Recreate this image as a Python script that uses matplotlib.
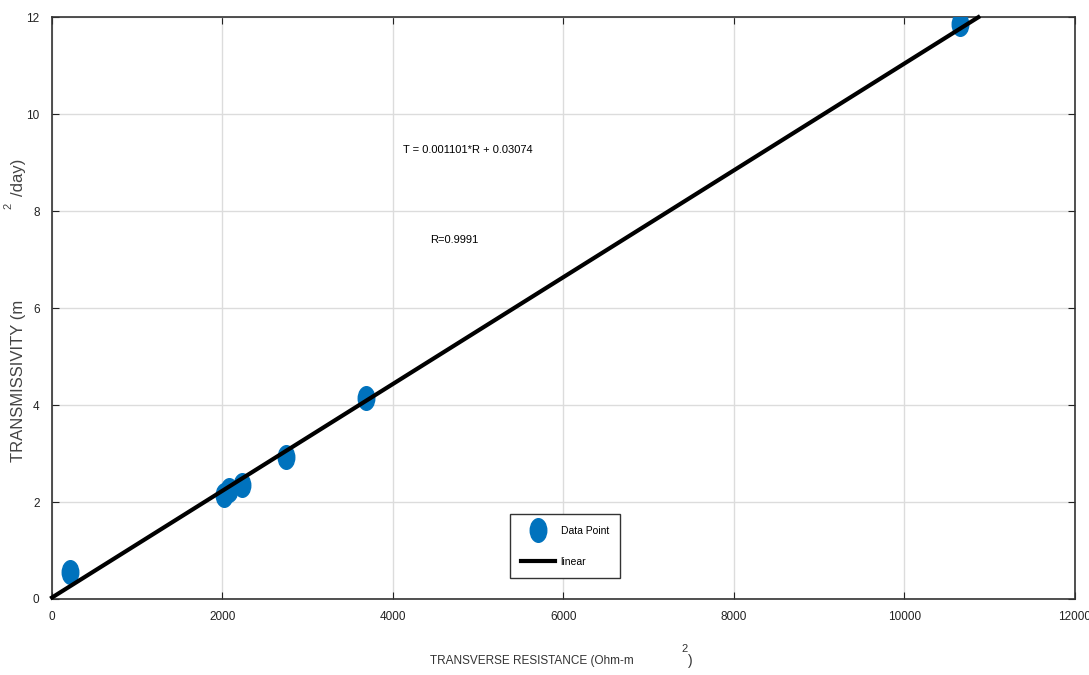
import numpy as np
import matplotlib
matplotlib.use("Agg")
import matplotlib.pyplot as plt
from matplotlib.path import Path
from matplotlib.lines import Line2D

plt.rcParams['font.family'] = ['Liberation Sans', 'DejaVu Sans']

# data
resistance = [211, 2020, 2076, 2229, 2745, 3683, 10651]
transmissivity = [0.56, 2.14, 2.25, 2.35, 2.93, 4.14, 11.86]
slope = 0.001101
intercept = 0.03074
fit_x = [0, 10870]
fit_y = [slope * v + intercept for v in fit_x]

# vertically stretched dot
circ = Path.unit_circle()
ellipse = Path(circ.vertices * np.array([0.7, 1.0]), circ.codes)

fig = plt.figure(figsize=(10.89, 6.75), dpi=100)
ax = fig.add_axes([0.0478, 0.1126, 0.939, 0.862])

ax.plot(resistance, transmissivity, linestyle='none', marker=ellipse,
        markersize=17, color='#0072BD', zorder=3)
ax.plot(fit_x, fit_y, color='black', linewidth=3, zorder=4, clip_on=False)

ax.set_xlim(0, 12000)
ax.set_ylim(0, 12)
ax.set_xticks(range(0, 12001, 2000))
ax.set_yticks(range(0, 13, 2))
ax.grid(True, color='#dcdcdc', linewidth=1)
ax.set_axisbelow(True)
ax.tick_params(direction='in', length=5, top=True, right=True, labelsize=8.5,
               colors='#222222', pad=9)
for s in ax.spines.values():
    s.set_color('#333333')
    s.set_linewidth(1.2)

ax.text(4120, 9.25, 'T = 0.001101*R + 0.03074', ha='left', va='center', fontsize=8)
ax.text(4440, 7.4, 'R=0.9991', ha='left', va='center', fontsize=8)

# axis labels with the detached superscripts
fig.text(0.395, 0.012, 'TRANSVERSE RESISTANCE (Ohm-m', ha='left', va='bottom',
         fontsize=8.5, color='#333333')
fig.text(0.634, 0.010, ')', ha='center', va='bottom', fontsize=10, color='#333333')
fig.text(0.629, 0.031, '2', ha='center', va='bottom', fontsize=8, color='#333333')
fig.text(0.017, 0.315, 'TRANSMISSIVITY (m', rotation=90, ha='center', va='bottom',
         fontsize=12, color='#444444')
fig.text(0.017, 0.71, '/day)', rotation=90, ha='center', va='bottom',
         fontsize=12, color='#444444')
fig.text(0.008, 0.69, '2', rotation=90, ha='center', va='bottom',
         fontsize=8, color='#444444')

handles = [Line2D([], [], linestyle='none', marker=ellipse, markersize=17, color='#0072BD'),
           Line2D([], [], color='black', linewidth=3)]
leg = ax.legend(handles, ['Data Point', 'linear'], loc='lower left',
                bbox_to_anchor=(0.4475, 0.036), fancybox=False, framealpha=1,
                edgecolor='#333333', fontsize=7.5, handlelength=3.3, borderpad=1.1,
                labelspacing=2.0, handletextpad=0.5, borderaxespad=0)
leg.get_frame().set_linewidth(1)

fig.savefig('out.png', dpi=100)
